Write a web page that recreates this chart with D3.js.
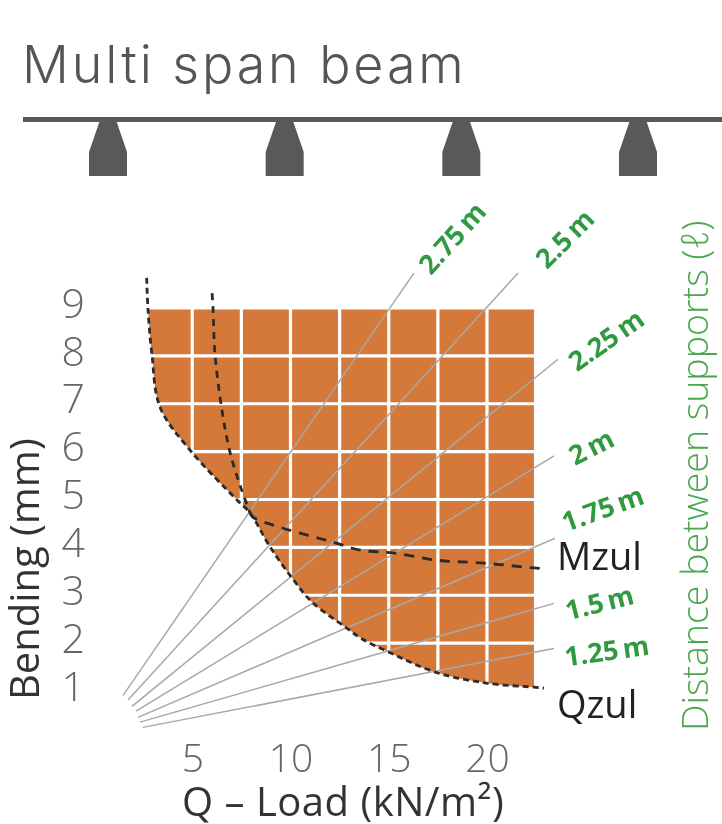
<!DOCTYPE html>
<html>
<head>
<meta charset="utf-8">
<script src="https://cdn.jsdelivr.net/npm/d3@7"></script>
<style>
html, body { margin: 0; padding: 0; background: #fff; overflow: hidden; }
svg { display: block; filter: blur(0.7px); font-family: "Open Sans", sans-serif; }
</style>
</head>
<body>
<div id="svg-holder"></div>
<script>
// values
let xTicks = [5, 10, 15, 20]
let yTicks = [1, 2, 3, 4, 5, 6, 7, 8, 9]
let xGrid = [5, 7.5, 10, 12.5, 15, 17.5, 20]
let yGrid = [2, 3, 4, 5, 6, 7, 8, 9]
let xMax = 22.39
let yMax = 9

let qzulLoad = [2.68, 2.75, 2.95, 3.36, 4.89, 7.28, 7.94, 8.96, 10.08, 11.09, 12.88, 13.59, 15.01, 17.4, 20.05, 22.39, 22.9]
let qzulBend = [9.63, 8.96, 8.02, 6.93, 6.03, 4.99, 4.72, 4.01, 3.36, 2.86, 2.31, 2.1, 1.81, 1.39, 1.16, 1.08, 1.06]
let mzulLoad = [6.01, 6.06, 6.16, 6.51, 6.92, 7.43, 7.94, 8.09, 9.62, 12.16, 13.59, 15.27, 17.51, 19.85, 22.39, 23]
let mzulBend = [9.31, 8.96, 8.02, 6.87, 5.99, 5.3, 4.72, 4.63, 4.4, 4.11, 3.94, 3.88, 3.73, 3.67, 3.57, 3.55]

let spanNames = ['2.75\u2009m', '2.5\u2009m', '2.25\u2009m', '2\u2009m', '1.75\u2009m', '1.5\u2009m', '1.25\u2009m']
let spanStartLoad = [1.48, 1.73, 1.93, 2.14, 2.24, 2.34, 2.49]
let spanStartBend = [0.91, 0.81, 0.68, 0.58, 0.45, 0.35, 0.24]
let spanEndLoad = [16.28, 21.58, 23.61, 23.41, 23.46, 23.41, 23.41]
let spanEndBend = [9.73, 9.73, 7.93, 5.91, 4.19, 2.83, 1.89]

let supports = [0, 1, 2, 3]

// label placement relative to the end of each line
let labelAngle = [-48, -45, -35, -27, -20, -14, -8]
let labelDx = [17, 29, 19, 21, 11, 14, 12]
let labelDy = [3, -3, 13, 10, -6, 17, 18]

let width = 722,
    height = 824

let svg = d3.select('#svg-holder').append('svg')
    .attr('width', width)
    .attr('height', height)

let x = d3.scaleLinear().domain([0, 20]).range([94, 487])
let y = d3.scaleLinear().domain([1, 9]).range([691, 308])
let supportX = d3.scaleLinear().domain([0, 3]).range([108, 638])

let grey = '#58595b'
let green = '#2f9a40'

// title and beam
svg.append('text')
    .attr('x', 22)
    .attr('y', 83)
    .attr('font-family', 'Inter, sans-serif')
    .attr('font-size', 52)
    .attr('font-weight', 300)
    .attr('letter-spacing', 2.9)
    .attr('fill', '#555')
    .text('Multi span beam')

svg.append('rect')
    .attr('x', 23)
    .attr('y', 117)
    .attr('width', width - 23)
    .attr('height', 5)
    .attr('fill', grey)

svg.append('g')
    .selectAll('path')
    .data(supports)
    .enter()
    .append('path')
        .attr('d', d => {
            let c = supportX(d)
            return `M ${c - 8} 120 L ${c + 8} 120 L ${c + 19} 152 L ${c + 19} 176 L ${c - 19} 176 L ${c - 19} 152 Z`
        })
        .attr('fill', grey)

// usable area, between the Qzul curve and the right edge
let curve = d3.line().curve(d3.curveCatmullRom).x(d => x(d[0])).y(d => y(d[1]))
let qzul = qzulLoad.map((d, i) => [d, qzulBend[i]])
let mzul = mzulLoad.map((d, i) => [d, mzulBend[i]])
let area = qzul.filter(d => d[1] <= yMax && d[0] <= xMax)

svg.append('path')
    .attr('d', curve(area) + `L ${x(xMax)} ${y(yMax)} L ${x(area[0][0])} ${y(yMax)} Z`)
    .attr('fill', '#d4793a')

svg.append('g')
    .selectAll('line')
    .data(xGrid)
    .enter()
    .append('line')
        .attr('x1', d => x(d))
        .attr('x2', d => x(d))
        .attr('y1', y(yMax))
        .attr('y2', y(1))
        .attr('stroke', '#fff')
        .attr('stroke-width', 3.2)

svg.append('g')
    .selectAll('line')
    .data(yGrid)
    .enter()
    .append('line')
        .attr('x1', x(2))
        .attr('x2', x(xMax) + 2)
        .attr('y1', d => y(d))
        .attr('y2', d => y(d))
        .attr('stroke', '#fff')
        .attr('stroke-width', 3.2)

// span lines
svg.append('g')
    .selectAll('line')
    .data(spanNames)
    .enter()
    .append('line')
        .attr('x1', (d, i) => x(spanStartLoad[i]))
        .attr('y1', (d, i) => y(spanStartBend[i]))
        .attr('x2', (d, i) => x(spanEndLoad[i]))
        .attr('y2', (d, i) => y(spanEndBend[i]))
        .attr('stroke', '#aaa8a4')
        .attr('stroke-width', 1.5)

svg.append('g')
    .selectAll('text')
    .data(spanNames)
    .enter()
    .append('text')
        .attr('transform', (d, i) => `translate(${x(spanEndLoad[i]) + labelDx[i]}, ${y(spanEndBend[i]) + labelDy[i]}) rotate(${labelAngle[i]})`)
        .attr('font-size', 27)
        .attr('font-weight', 700)
        .attr('fill', green)
        .text(d => d)

// limit curves
svg.append('path')
    .attr('d', curve(qzul))
    .attr('fill', 'none')
    .attr('stroke', '#2b2b2b')
    .attr('stroke-width', 2.8)
    .attr('stroke-dasharray', '6 4')

svg.append('path')
    .attr('d', curve(mzul.slice(0, 7)))
    .attr('fill', 'none')
    .attr('stroke', '#2b2b2b')
    .attr('stroke-width', 2.8)
    .attr('stroke-dasharray', '7 6')

svg.append('path')
    .attr('d', curve(mzul.slice(6)))
    .attr('fill', 'none')
    .attr('stroke', '#2b2b2b')
    .attr('stroke-width', 2.8)
    .attr('stroke-dasharray', '10 8')

// axes, lines hidden, only the numbers show
let xAxis = svg.append('g')
    .attr('transform', 'translate(0, 772)')
    .call(d3.axisBottom(x).tickValues(xTicks).tickSize(0).tickPadding(0))
xAxis.select('.domain').remove()
xAxis.selectAll('text')
    .attr('font-family', '"Open Sans", sans-serif')
    .attr('font-size', 39)
    .attr('font-weight', 300)
    .attr('fill', '#666')
    .attr('dy', 0)

let yAxis = svg.append('g')
    .attr('transform', 'translate(85, -4)')
    .call(d3.axisLeft(y).tickValues(yTicks).tickSize(0).tickPadding(0))
yAxis.select('.domain').remove()
yAxis.selectAll('text')
    .attr('font-family', '"Open Sans", sans-serif')
    .attr('font-size', 41)
    .attr('font-weight', 300)
    .attr('fill', '#666')

// titles
svg.append('text')
    .attr('x', 182)
    .attr('y', 816)
    .attr('font-size', 40)
    .attr('font-weight', 400)
    .attr('letter-spacing', 0.5)
    .attr('fill', '#333')
    .text('Q \u2013 Load (kN/m\u00b2)')

svg.append('text')
    .attr('transform', 'translate(39, 700) rotate(-90)')
    .attr('font-size', 40)
    .attr('font-weight', 400)
    .attr('fill', '#333')
    .text('Bending (mm)')

let side = svg.append('text')
    .attr('transform', 'translate(708, 731) rotate(-90)')
    .attr('font-size', 37.5)
    .attr('font-weight', 300)
    .attr('fill', '#4aa74c')
side.append('tspan').text('Distance between supports (')
side.append('tspan').attr('font-style', 'italic').text('\u2113')
side.append('tspan').text(')')

svg.append('text')
    .attr('x', 557)
    .attr('y', 570)
    .attr('font-size', 38)
    .attr('fill', '#222')
    .text('Mzul')

svg.append('text')
    .attr('x', 557)
    .attr('y', 718)
    .attr('font-size', 38)
    .attr('fill', '#222')
    .text('Qzul')
</script>
</body>
</html>
